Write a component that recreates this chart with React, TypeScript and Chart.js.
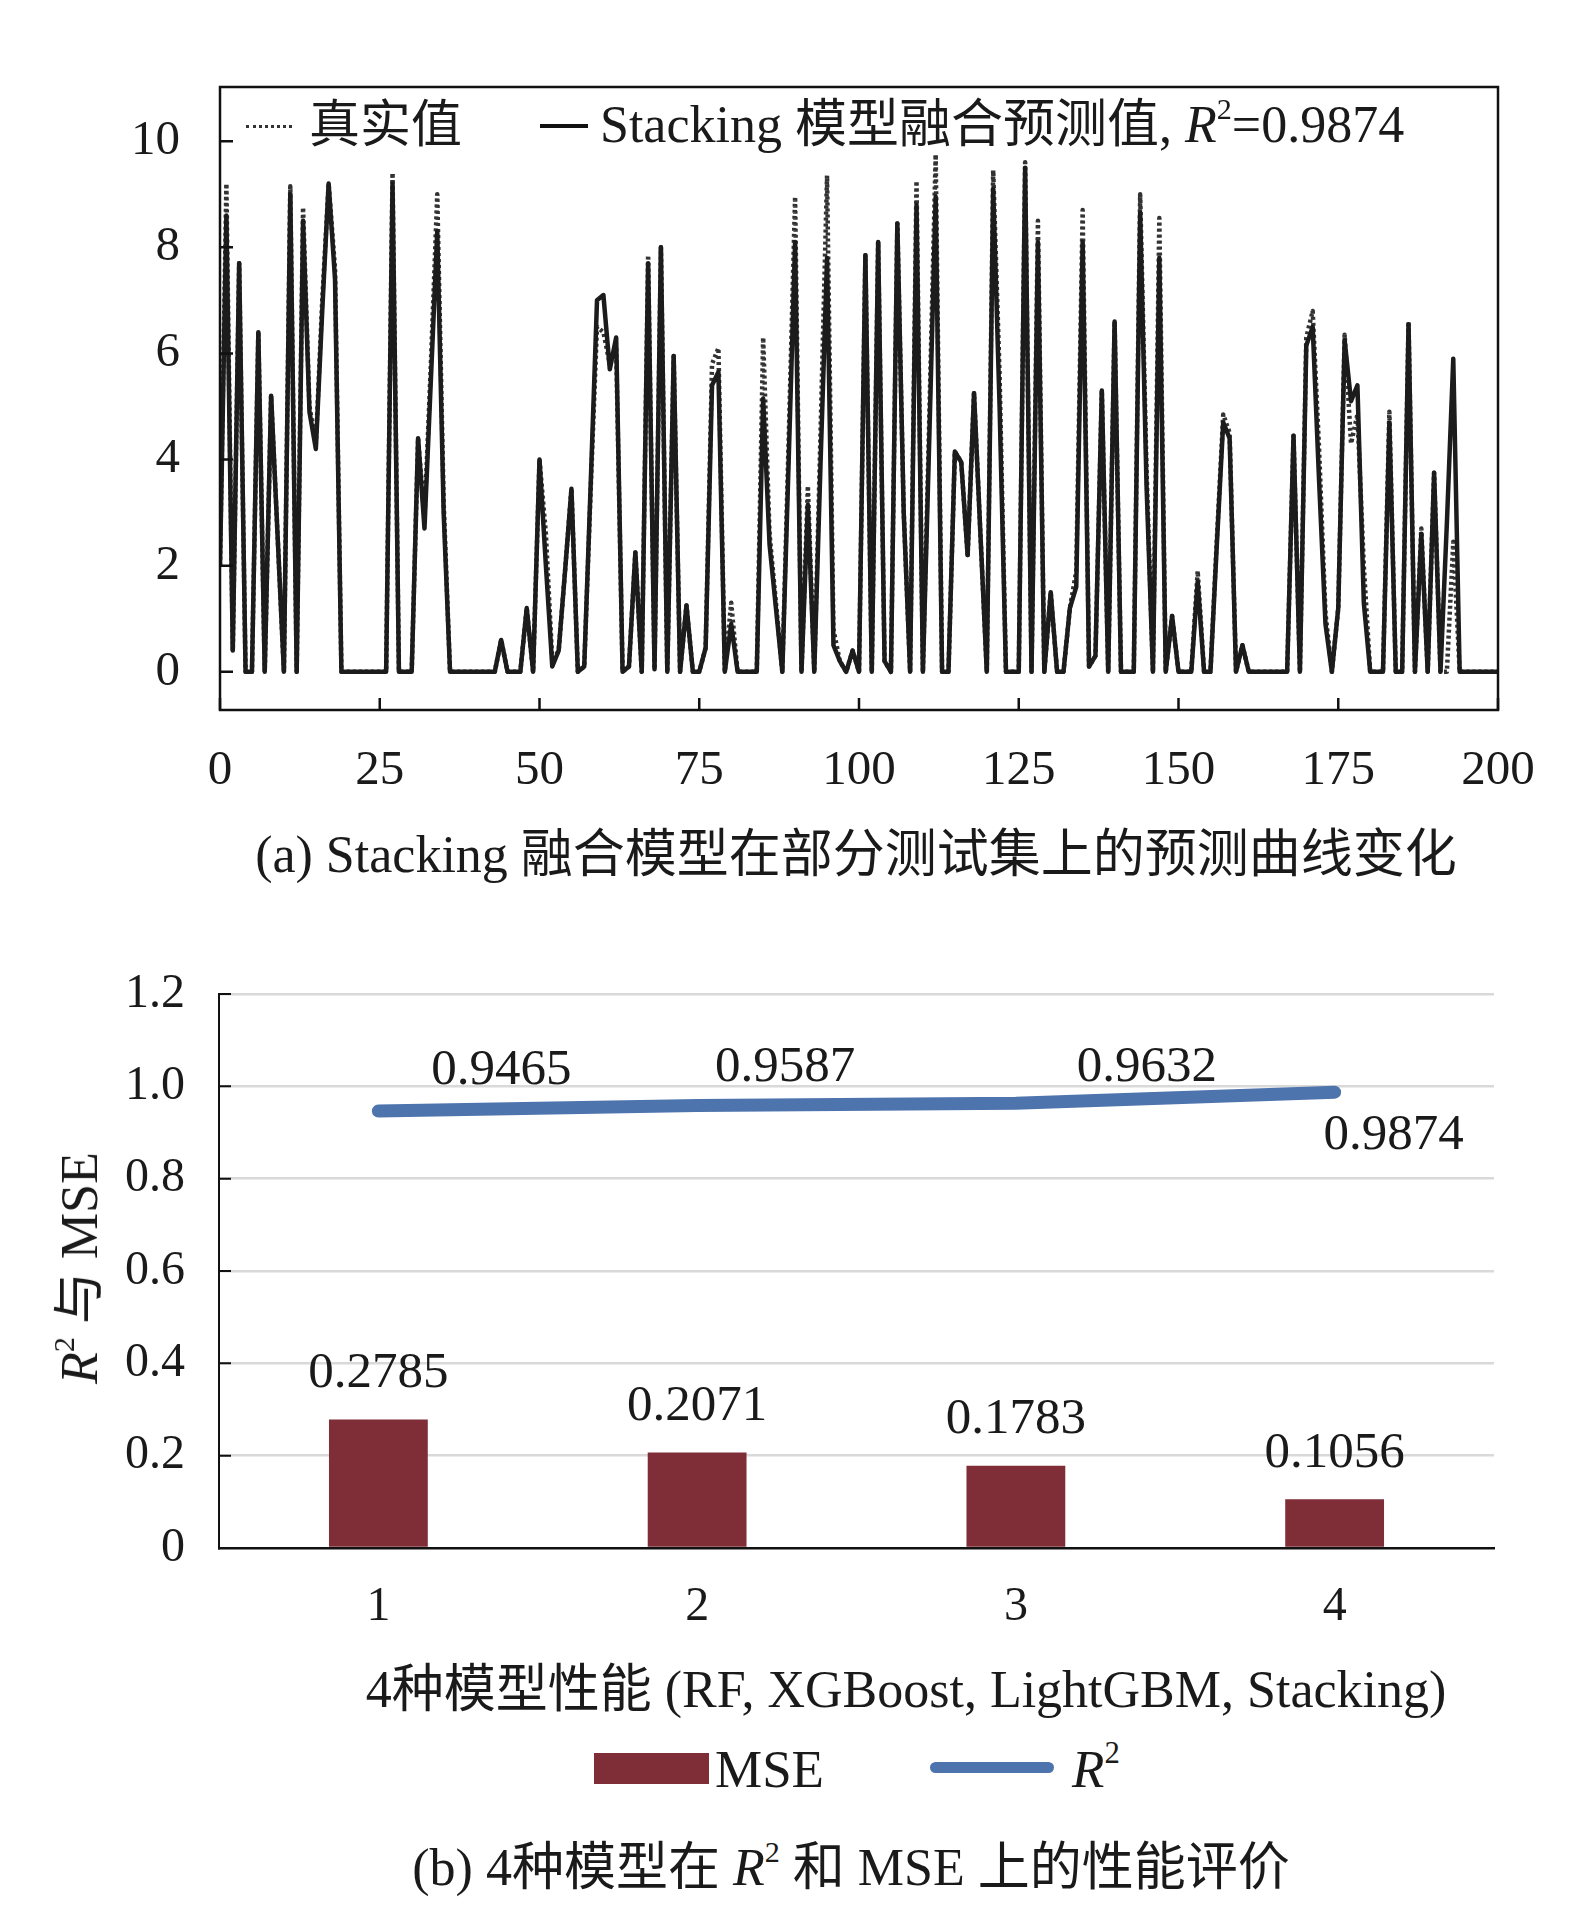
import React, { useEffect, useRef } from 'react'
import { Chart, registerables, type Plugin } from 'chart.js'

Chart.register(...registerables)

const FONT = '"Liberation Serif", "Noto Sans CJK SC", serif'
const INK = '#1a1a1a'

// (a) sample index 0..200 on the x axis
const actualValues = [
  2.0, 9.2, 0.4, 7.7, 0, 0, 6.4, 0, 5.2, 2.6,
  0, 9.15, 0, 8.75, 5.0, 4.3, 7.0, 9.2, 7.6, 0,
  0, 0, 0, 0, 0, 0, 0, 9.4, 0, 0,
  0, 4.4, 2.9, 5.8, 9.0, 3.2, 0, 0, 0, 0,
  0, 0, 0, 0, 0.6, 0, 0, 0, 1.2, 0,
  4.0, 2.6, 0.2, 0.4, 1.9, 3.45, 0, 0.1, 3.4, 6.5,
  6.4, 5.8, 6.1, 0, 0.1, 2.25, 0, 7.85, 0.05, 8.0,
  0, 5.95, 0, 1.25, 0, 0, 0.45, 5.8, 6.1, 0,
  1.3, 0, 0, 0, 0, 6.3, 2.6, 1.3, 0, 4.4,
  8.95, 0, 3.5, 0, 4.6, 9.35, 0.8, 0.2, 0, 0.4,
  0, 7.85, 0, 8.1, 0.2, 0, 8.45, 3.0, 0, 9.25,
  0, 4.8, 9.75, 0, 0, 4.15, 3.95, 2.2, 5.25, 2.6,
  0, 9.45, 5.6, 0, 0, 0, 9.6, 0, 8.5, 0,
  1.5, 0, 0, 1.2, 1.9, 8.7, 0.1, 0.3, 5.3, 0,
  6.6, 0, 0, 0, 9.0, 3.8, 0, 8.55, 0, 1.05,
  0, 0, 0, 1.9, 0, 0, 2.5, 4.85, 4.5, 0,
  0.5, 0, 0, 0, 0, 0, 0, 0, 4.45, 0,
  6.3, 6.8, 4.2, 1.1, 0, 1.2, 6.35, 4.3, 4.85, 2.0,
  0, 0, 0, 4.9, 0, 0, 6.6, 0, 2.7, 0,
  3.75, 0, 0, 2.45, 0, 0, 0, 0, 0, 0,
  0,
]

const stackingPred = [
  2.0, 8.6, 0.4, 7.7, 0, 0, 6.4, 0, 5.2, 2.6,
  0, 9.0, 0, 8.5, 4.9, 4.2, 6.8, 9.2, 7.4, 0,
  0, 0, 0, 0, 0, 0, 0, 9.2, 0, 0,
  0, 4.4, 2.7, 5.5, 8.3, 3.0, 0, 0, 0, 0,
  0, 0, 0, 0, 0.6, 0, 0, 0, 1.2, 0,
  4.0, 2.0, 0.1, 0.4, 1.9, 3.45, 0, 0.1, 3.5, 7.0,
  7.1, 5.7, 6.3, 0, 0.1, 2.25, 0, 7.7, 0.05, 8.0,
  0, 5.95, 0, 1.25, 0, 0, 0.45, 5.4, 5.65, 0,
  0.9, 0, 0, 0, 0, 5.15, 2.4, 1.2, 0, 4.0,
  8.1, 0, 3.15, 0, 4.0, 7.8, 0.5, 0.2, 0, 0.4,
  0, 7.85, 0, 8.1, 0.2, 0, 8.45, 3.0, 0, 8.8,
  0, 4.4, 8.95, 0, 0, 4.15, 3.95, 2.2, 5.25, 2.6,
  0, 9.1, 5.0, 0, 0, 0, 9.5, 0, 8.1, 0,
  1.5, 0, 0, 1.2, 1.6, 8.1, 0.1, 0.3, 5.3, 0,
  6.6, 0, 0, 0, 8.65, 3.5, 0, 7.8, 0, 1.05,
  0, 0, 0, 1.7, 0, 0, 2.4, 4.7, 4.4, 0,
  0.5, 0, 0, 0, 0, 0, 0, 0, 4.45, 0,
  6.15, 6.5, 3.6, 0.9, 0, 1.2, 6.25, 5.1, 5.4, 1.3,
  0, 0, 0, 4.7, 0, 0, 6.55, 0, 2.6, 0,
  3.75, 0, 2.8, 5.9, 0, 0, 0, 0, 0, 0,
  0,
]

const xTicksA = [0, 25, 50, 75, 100, 125, 150, 175, 200]
const yTicksA = [0, 2, 4, 6, 8, 10]

// (b) four models: RF, XGBoost, LightGBM, Stacking
const modelIds = ['1', '2', '3', '4']
const mseValues = [0.2785, 0.2071, 0.1783, 0.1056]
const r2Values = [0.9465, 0.9587, 0.9632, 0.9874]
const yTicksB = [0, 0.2, 0.4, 0.6, 0.8, 1.0, 1.2]

// label placement for the R² values (px offsets from the point)
const r2LabelDx = [123, 88, 131, 59]
const r2LabelDy = [-40, -38, -36, 43]

const frameA: Plugin<'line'> = {
  id: 'frameA',
  afterDatasetsDraw(chart) {
    const { ctx, chartArea: a, scales } = chart
    ctx.save()
    ctx.strokeStyle = '#111'
    ctx.lineWidth = 2.5
    ctx.strokeRect(a.left, a.top, a.right - a.left, a.bottom - a.top)
    ctx.beginPath()
    for (const t of xTicksA) {
      const px = scales.x.getPixelForValue(t)
      ctx.moveTo(px, a.bottom)
      ctx.lineTo(px, a.bottom - 12)
    }
    for (const t of yTicksA) {
      const py = scales.y.getPixelForValue(t)
      ctx.moveTo(a.left, py)
      ctx.lineTo(a.left + 13, py)
    }
    ctx.stroke()
    ctx.restore()
  },
}

const labelsB: Plugin<'bar'> = {
  id: 'labelsB',
  afterDatasetsDraw(chart) {
    const { ctx, chartArea: a } = chart
    const x = chart.scales.x
    const y = chart.scales.y
    ctx.save()
    ctx.strokeStyle = '#111'
    ctx.lineWidth = 2
    ctx.beginPath()
    for (const t of yTicksB) {
      if (t === 0) continue
      const py = y.getPixelForValue(t)
      ctx.moveTo(a.left, py)
      ctx.lineTo(a.left + 12, py)
    }
    ctx.stroke()
    ctx.fillStyle = INK
    ctx.font = `51px ${FONT}`
    ctx.textAlign = 'center'
    ctx.textBaseline = 'middle'
    mseValues.forEach((v, i) => {
      ctx.fillText(v.toFixed(4), x.getPixelForValue(i), y.getPixelForValue(v) - 46)
    })
    r2Values.forEach((v, i) => {
      ctx.fillText(v.toFixed(4), x.getPixelForValue(i) + r2LabelDx[i], y.getPixelForValue(v) + r2LabelDy[i])
    })
    ctx.restore()
  },
}

function TopChart() {
  const canvasRef = useRef<HTMLCanvasElement>(null)
  const chartRef = useRef<Chart | null>(null)

  useEffect(() => {
    if (!canvasRef.current) return
    chartRef.current?.destroy()
    const tickFont = { family: FONT, size: 49 }
    chartRef.current = new Chart(canvasRef.current, {
      type: 'line',
      data: {
        datasets: [
          {
            label: 'Stacking 模型融合预测值',
            data: stackingPred.map((v, i) => ({ x: i, y: v })),
            borderColor: '#1c1c1c',
            borderWidth: 4.5,
            borderJoinStyle: 'round',
            pointRadius: 0,
            tension: 0,
            order: 0,
          },
          {
            label: '真实值',
            data: actualValues.map((v, i) => ({ x: i, y: v })),
            borderColor: '#333',
            borderWidth: 4.5,
            borderDash: [3, 3],
            borderJoinStyle: 'round',
            pointRadius: 0,
            tension: 0,
            order: 1,
          },
        ],
      },
      options: {
        responsive: false,
        animation: false,
        layout: { padding: { top: 87, right: 77, left: 0, bottom: 0 } },
        plugins: { legend: { display: false }, tooltip: { enabled: false } },
        scales: {
          x: {
            type: 'linear',
            min: 0,
            max: 200,
            grid: { display: false, drawTicks: false },
            border: { display: false },
            afterBuildTicks: (s: any) => { s.ticks = xTicksA.map(v => ({ value: v })) },
            afterFit: (s: any) => { s.height = 90 },
            ticks: { color: INK, font: tickFont, padding: 32, maxRotation: 0, autoSkip: false },
          },
          y: {
            type: 'linear',
            min: -0.72,
            max: 11.02,
            grid: { display: false, drawTicks: false },
            border: { display: false },
            afterBuildTicks: (s: any) => { s.ticks = yTicksA.map(v => ({ value: v })) },
            afterFit: (s: any) => { s.width = 220 },
            ticks: { color: INK, font: tickFont, padding: 40 },
          },
        },
      },
      plugins: [frameA],
    })
    return () => { chartRef.current?.destroy() }
  }, [])

  return <canvas ref={canvasRef} width={1575} height={800} style={{ position: 'absolute', left: 0, top: 0, width: 1575, height: 800 }} />
}

function BottomChart() {
  const canvasRef = useRef<HTMLCanvasElement>(null)
  const chartRef = useRef<Chart | null>(null)

  useEffect(() => {
    if (!canvasRef.current) return
    chartRef.current?.destroy()
    const tickFont = { family: FONT, size: 48 }
    chartRef.current = new Chart(canvasRef.current, {
      type: 'bar',
      data: {
        labels: modelIds,
        datasets: [
          {
            type: 'line',
            label: 'R²',
            data: r2Values,
            borderColor: '#4e74ae',
            backgroundColor: '#4e74ae',
            borderWidth: 13,
            borderCapStyle: 'round',
            pointRadius: 0,
            tension: 0,
            order: 0,
          } as any,
          {
            type: 'bar',
            label: 'MSE',
            data: mseValues,
            backgroundColor: '#7f2d37',
            barPercentage: 0.31,
            categoryPercentage: 1,
            order: 1,
          },
        ],
      },
      options: {
        responsive: false,
        animation: false,
        layout: { padding: { top: 87, right: 81, left: 0, bottom: 0 } },
        plugins: { legend: { display: false }, tooltip: { enabled: false } },
        scales: {
          x: {
            type: 'category',
            grid: { display: false, drawTicks: false },
            border: { display: true, color: '#111', width: 2.5 },
            afterFit: (s: any) => { s.height = 99 },
            ticks: { color: INK, font: tickFont, padding: 31 },
          },
          y: {
            type: 'linear',
            min: 0,
            max: 1.2,
            grid: {
              drawTicks: false,
              lineWidth: 2.5,
              color: (c: any) => (c.tick && c.tick.value === 0 ? 'rgba(0,0,0,0)' : '#d9d9d9'),
            },
            border: { display: true, color: '#111', width: 2 },
            afterBuildTicks: (s: any) => { s.ticks = yTicksB.map(v => ({ value: v })) },
            afterFit: (s: any) => { s.width = 219 },
            ticks: {
              color: INK,
              font: tickFont,
              padding: 34,
              callback: (v: any) => (v === 0 ? '0' : Number(v).toFixed(1)),
            },
          },
        },
      },
      plugins: [labelsB],
    })
    return () => { chartRef.current?.destroy() }
  }, [])

  return <canvas ref={canvasRef} width={1575} height={740} style={{ position: 'absolute', left: 0, top: 907, width: 1575, height: 740 }} />
}

const sup: React.CSSProperties = { fontSize: '0.58em', position: 'relative', top: '-0.75em' }

function Text({ x, y, size = 52, center = false, children, style }: {
  x: number; y: number; size?: number; center?: boolean; children: React.ReactNode; style?: React.CSSProperties
}) {
  return (
    <div
      style={{
        position: 'absolute',
        left: x,
        top: y - size / 2,
        fontSize: size,
        lineHeight: 1,
        whiteSpace: 'nowrap',
        transform: center ? 'translateX(-50%)' : undefined,
        ...style,
      }}
    >
      {children}
    </div>
  )
}

export default function App() {
  return (
    <div
      style={{
        position: 'absolute',
        left: 0,
        top: 0,
        width: 1575,
        height: 1908,
        background: '#fff',
        color: INK,
        fontFamily: FONT,
        overflow: 'hidden',
      }}
    >
      <TopChart />
      <BottomChart />

      {/* legend of (a) */}
      <div style={{ position: 'absolute', left: 246, top: 125, width: 46, borderTop: '3px dotted #333' }} />
      <Text x={309} y={125} size={51}>真实值</Text>
      <div style={{ position: 'absolute', left: 540, top: 124, width: 48, borderTop: '4px solid #111' }} />
      <Text x={600} y={125}>
        Stacking 模型融合预测值, <i>R</i><span style={sup}>2</span>=0.9874
      </Text>

      <Text x={856} y={855} center>(a) Stacking 融合模型在部分测试集上的预测曲线变化</Text>

      {/* axis titles of (b) */}
      <div
        style={{
          position: 'absolute',
          left: 80,
          top: 1268,
          fontSize: 52,
          lineHeight: 1,
          whiteSpace: 'nowrap',
          transform: 'translate(-50%, -50%) rotate(-90deg)',
        }}
      >
        <i>R</i><span style={sup}>2</span> 与 MSE
      </div>
      <Text x={906} y={1690} center>4种模型性能 (RF, XGBoost, LightGBM, Stacking)</Text>

      {/* legend of (b) */}
      <div style={{ position: 'absolute', left: 594, top: 1753, width: 115, height: 31, background: '#7f2d37' }} />
      <Text x={715} y={1769} size={53}>MSE</Text>
      <div style={{ position: 'absolute', left: 930, top: 1762, width: 124, height: 11, borderRadius: 5.5, background: '#4e74ae' }} />
      <Text x={1072} y={1769} size={53}><i>R</i><span style={sup}>2</span></Text>

      <Text x={851} y={1868} center>
        (b) 4种模型在 <i>R</i><span style={sup}>2</span> 和 MSE 上的性能评价
      </Text>
    </div>
  )
}
